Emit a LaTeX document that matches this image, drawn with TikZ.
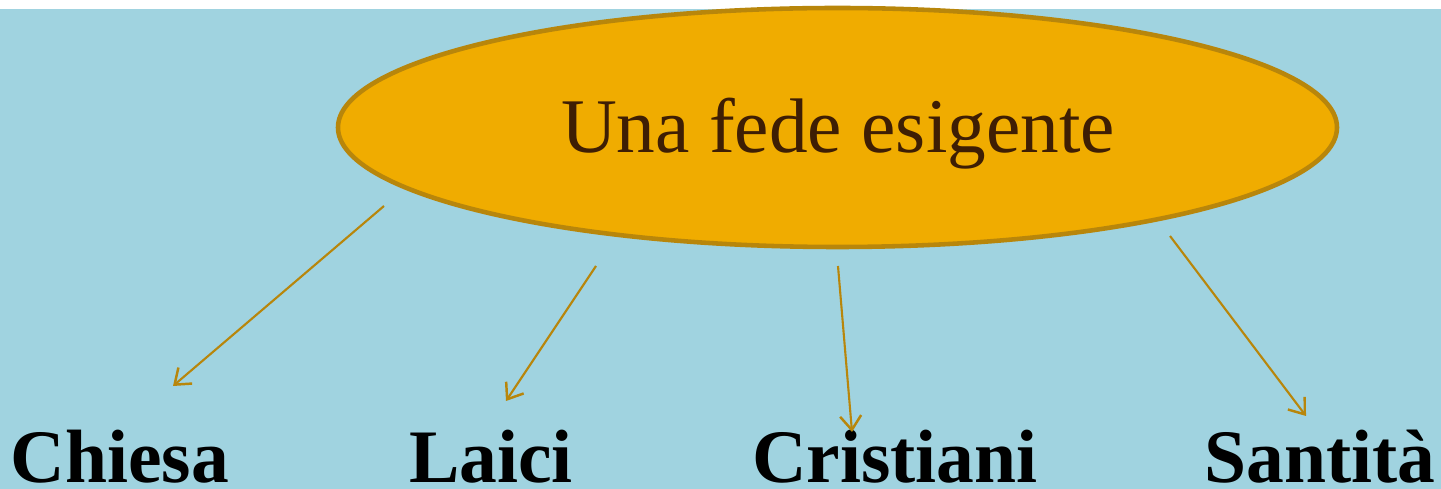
\documentclass[tikz,border=0pt]{standalone}
\usepackage{fontspec}
\setmainfont{Liberation Serif}
\definecolor{cielo}{RGB}{160,211,224}
\definecolor{oro}{RGB}{240,172,0}
\definecolor{bordo}{RGB}{184,134,11}
\definecolor{marrone}{RGB}{62,30,4}
\tikzset{
  parola/.style={anchor=base,font=\fontsize{43}{43}\selectfont\bfseries,text=black,inner sep=0pt},
  freccia/.style={->,>={Straight Barb[length=8pt,width=12pt,line width=1.4pt]},draw=bordo,line width=1.2pt}
}
\usetikzlibrary{arrows.meta}
\begin{document}
\begin{tikzpicture}[x=0.02cm,y=-0.02cm]
   \useasboundingbox (0,0) rectangle (1441,489);
   \fill [cielo] (0,9) rectangle (1441,489);
   \draw [bordo,fill=oro,line width=2.6pt] (837.5,127.5) ellipse [x radius=499.5,y radius=119.5];
   \node (fede) [anchor=base,text=marrone,font=\fontsize{44}{44}\selectfont,inner sep=0pt] at (838,153) {Una fede esigente};
   \node (chiesa) [parola] at (120,483) {Chiesa};
   \node (laici) [parola] at (491,483) {Laici};
   \node (cristiani) [parola] at (895,483) {Cristiani};
   \node (santita) [parola] at (1320,483) {Santità};
   \coordinate (da1) at (384,206);  \coordinate (a1) at (173,386);
   \coordinate (da2) at (596,266);  \coordinate (a2) at (506,401);
   \coordinate (da3) at (838,266);  \coordinate (a3) at (852,432);
   \coordinate (da4) at (1170,236); \coordinate (a4) at (1306,416);
   \draw [freccia] (da1)--(a1);
   \draw [freccia] (da2)--(a2);
   \draw [freccia] (da3)--(a3);
   \draw [freccia] (da4)--(a4);
\end{tikzpicture}
\end{document}
